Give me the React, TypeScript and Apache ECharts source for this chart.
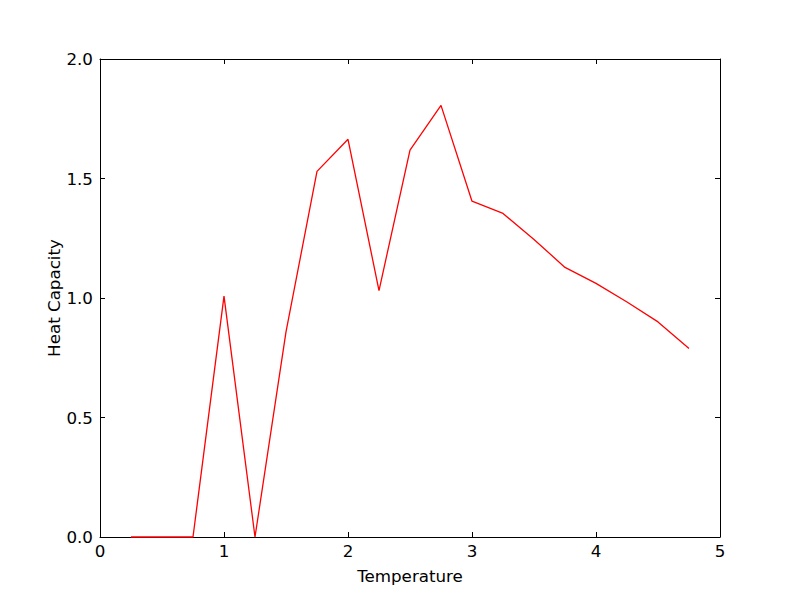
import React, { useEffect, useRef } from "react";
import * as echarts from "echarts";

const temperatures = [0.25, 0.5, 0.75, 1.0, 1.25, 1.5, 1.75, 2.0, 2.25, 2.5, 2.75, 3.0, 3.25, 3.5, 3.75, 4.0, 4.25, 4.5, 4.75];
const heatCapacity = [0, 0, 0, 1.008, 0, 0.858, 1.53, 1.664, 1.031, 1.619, 1.806, 1.405, 1.354, 1.245, 1.128, 1.061, 0.983, 0.9, 0.789];
const xTicks = [0, 1, 2, 3, 4, 5];
const yTicks = [0, 0.5, 1.0, 1.5, 2.0];

export default function App() {
  const ref = useRef<HTMLDivElement>(null);
  useEffect(() => {
    if (!ref.current) return;
    const chart = echarts.init(ref.current, null, { renderer: "svg" });
    const font = "DejaVu Sans";
    const fs = 16.7;
    const axisLine = { show: true, onZero: false, lineStyle: { color: "#000", width: 1 } };
    const tick = { show: true, inside: true, length: 5, lineStyle: { color: "#000", width: 1 } };
    const xBase = { type: "value" as const, min: xTicks[0], max: xTicks[xTicks.length - 1], interval: 1, splitLine: { show: false } };
    const yBase = { type: "value" as const, min: yTicks[0], max: yTicks[yTicks.length - 1], interval: 0.5, splitLine: { show: false } };
    chart.setOption({
      animation: false,
      backgroundColor: "#fff",
      textStyle: { fontFamily: font },
      grid: { left: 100, top: 59, width: 620, height: 478 },
      xAxis: [
        {
          ...xBase,
          position: "bottom",
          axisLine,
          axisTick: tick,
          axisLabel: { color: "#000", fontSize: fs, fontFamily: font, margin: 5, formatter: (v: number) => String(v) },
          name: "Temperature",
          nameLocation: "middle",
          nameGap: 30,
          nameMoveOverlap: false,
          nameTextStyle: { color: "#000", fontSize: fs, fontFamily: font },
        },
        { ...xBase, position: "top", axisLine, axisTick: tick, axisLabel: { show: false } },
      ],
      yAxis: [
        {
          ...yBase,
          position: "left",
          axisLine,
          axisTick: tick,
          axisLabel: { color: "#000", fontSize: fs, fontFamily: font, margin: 7, formatter: (v: number) => v.toFixed(1) },
          name: "Heat Capacity",
          nameLocation: "middle",
          nameGap: 38,
          nameMoveOverlap: false,
          nameTextStyle: { color: "#000", fontSize: fs, fontFamily: font },
        },
        { ...yBase, position: "right", axisLine, axisTick: tick, axisLabel: { show: false } },
      ],
      series: [
        {
          type: "line",
          data: temperatures.map((t, i) => [t, heatCapacity[i]]),
          showSymbol: false,
          symbol: "none",
          lineStyle: { color: "#ff0000", width: 1.3 },
          clip: false,
        },
      ],
    });
    return () => chart.dispose();
  }, []);
  return <div ref={ref} style={{ position: "absolute", left: 0, top: 0, width: 800, height: 597 }} />;
}
